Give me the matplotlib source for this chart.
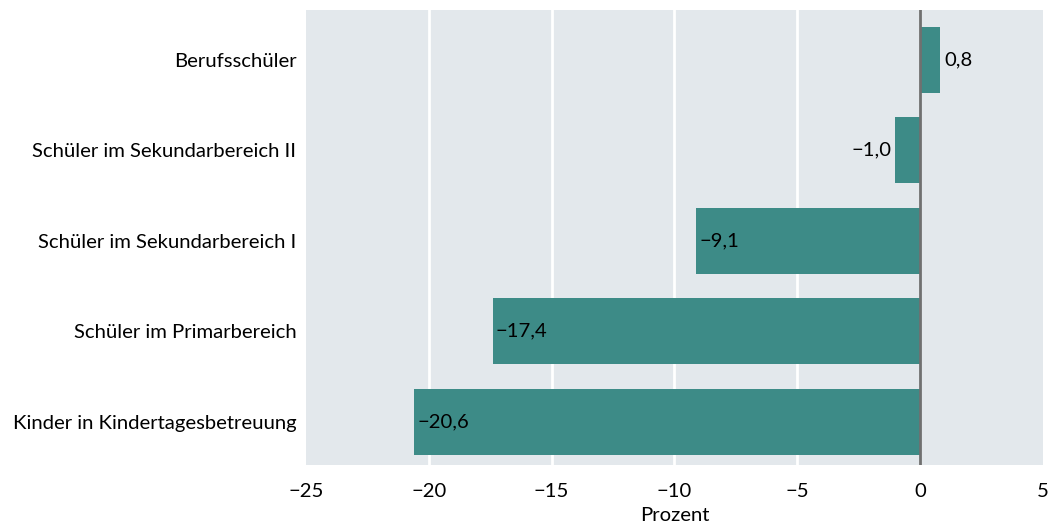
import matplotlib
matplotlib.use("Agg")
import matplotlib.pyplot as plt

categories = ["Kinder in Kindertagesbetreuung", "Schüler im Primarbereich",
              "Schüler im Sekundarbereich I", "Schüler im Sekundarbereich II",
              "Berufsschüler"]
values = [-20.6, -17.4, -9.1, -1.0, 0.8]
xticks = [-25, -20, -15, -10, -5, 0, 5]

plt.rcParams['font.family'] = ['Lato', 'DejaVu Sans']
FS = 14.6
fig = plt.figure(figsize=(10.48, 5.3), dpi=100)
ax = fig.add_axes([0.292, 0.1226, 0.703, 0.8585])
ax.set_facecolor('#e3e8ec')
bar_color = '#3d8b87'
ypos = list(range(len(categories)))
ax.barh(ypos, values, height=0.73, color=bar_color, zorder=2)
ax.set_xlim(-25, 5)
ax.set_ylim(-0.48, 4.55)
ax.set_xticks(xticks)
ax.set_xticklabels([("\u2212" + str(abs(t))) if t < 0 else str(t) for t in xticks], fontsize=FS)
ax.set_yticks(ypos)
ax.set_yticklabels(categories, fontsize=FS)
ax.tick_params(axis='y', length=0, pad=7)
ax.tick_params(axis='x', length=0, pad=13)
for t in xticks:
    if t not in (-25, 0, 5):
        ax.axvline(t, color='white', lw=2, zorder=1)
ax.axvline(0, color='#707070', lw=2, zorder=3)
for s in ax.spines.values():
    s.set_visible(False)

def fmt(v):
    s = f"{abs(v):.1f}".replace(".", ",")
    return ("\u2212" + s) if v < 0 else s

for y, v in zip(ypos, values):
    if v >= 0:
        ax.text(v + 0.2, y, fmt(v), va='center', ha='left', fontsize=FS, zorder=4)
    elif abs(v) > 5:
        ax.text(v + 0.12, y, fmt(v), va='center', ha='left', fontsize=FS, zorder=4)
    else:
        ax.text(v - 0.15, y, fmt(v), va='center', ha='right', fontsize=FS, zorder=4)

ax.set_xlabel("Prozent", fontsize=FS, labelpad=5)
fig.savefig("out.png", dpi=100)
